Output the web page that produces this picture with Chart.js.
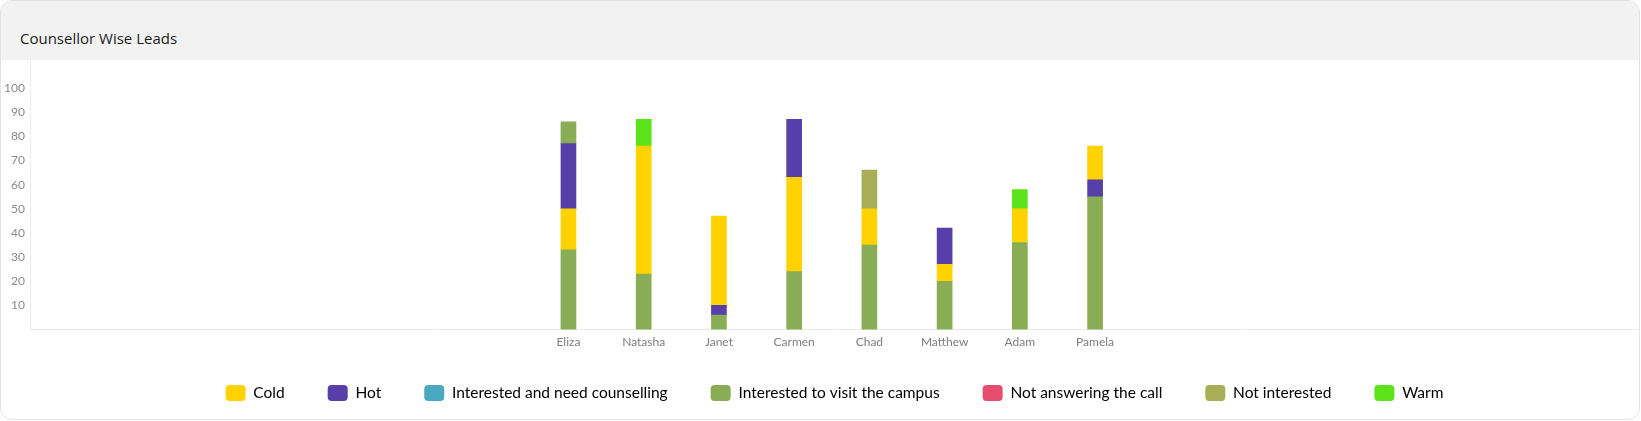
<!DOCTYPE html>
<html>
<head>
<meta charset="utf-8">
<title>Counsellor Wise Leads</title>
<script src="https://cdn.jsdelivr.net/npm/chart.js@4.4.1/dist/chart.umd.min.js"></script>
<style>
  html, body { margin: 0; padding: 0; background: #fff; }
  .card {
    position: relative;
    width: 1640px;
    height: 420px;
    box-sizing: border-box;
    border: 1px solid #e3e3e3;
    border-radius: 12px;
    overflow: hidden;
    background: #fff;
  }
  .card-header {
    height: 59px;
    background: #f2f2f2;
    box-sizing: border-box;
    padding: 27px 0 0 19px;
    font-family: "Open Sans", sans-serif;
    font-weight: 500;
    font-size: 15px;
    line-height: 20px;
    color: #1c1c1c;
  }
  /* o canvas sobe 12px para compensar o padding do eixo y */
  .chart-box {
    position: absolute;
    left: 0;
    top: 47px;
    width: 1643px;
    height: 375px;
  }
</style>
</head>
<body>
<div class="card">
  <div class="card-header">Counsellor Wise Leads</div>
  <div class="chart-box"><canvas id="leadsChart"></canvas></div>
</div>
<script>
// categorias e status
const counsellors = ['Eliza', 'Natasha', 'Janet', 'Carmen', 'Chad', 'Matthew', 'Adam', 'Pamela'];
const statuses = ['Cold', 'Hot', 'Interested and need counselling', 'Interested to visit the campus',
                  'Not answering the call', 'Not interested', 'Warm'];
const statusColors = ['#ffd200', '#573ea9', '#4aa9c1', '#88ad55', '#e74d6d', '#a7ae55', '#5ce31a'];

// segmentos empilhados, de baixo para cima
const visitCampusLower = [33, 23, 6, 24, 35, 20, 36, 55];
const hotLower         = [null, null, 4, null, null, null, null, 7];
const cold             = [17, 53, 37, 39, 15, 7, 14, 14];
const hotUpper         = [27, null, null, 24, null, 15, null, null];
const visitCampusUpper = [9, null, null, null, null, null, null, null];
const warm             = [null, 11, null, null, null, null, 8, null];
const notInterested    = [null, null, null, null, 16, null, null, null];

const yTicks = [10, 20, 30, 40, 50, 60, 70, 80, 90, 100];

const layers = [
  ['Interested to visit the campus', visitCampusLower],
  ['Hot', hotLower],
  ['Cold', cold],
  ['Hot', hotUpper],
  ['Interested to visit the campus', visitCampusUpper],
  ['Warm', warm],
  ['Not interested', notInterested]
];

function colorOf(status) {
  return statusColors[statuses.indexOf(status)];
}

const datasets = layers.map(([status, values]) => ({
  label: status,
  data: values.map((v, i) => ({ x: i, y: v })),
  backgroundColor: colorOf(status),
  borderWidth: 0,
  barThickness: 15
}));

// ajusta a legenda: mais perto do eixo x e centrada na área do gráfico
const legendShift = {
  id: 'legendShift',
  afterLayout(chart) {
    const legend = chart.legend;
    if (!legend) return;
    legend.top -= 12;
    legend.bottom -= 12;
    legend.left += 12;
    legend.right += 12;
  }
};

const ctx = document.getElementById('leadsChart').getContext('2d');
Chart.defaults.font.family = 'Lato';

new Chart(ctx, {
  type: 'bar',
  data: { datasets: datasets },
  plugins: [legendShift],
  options: {
    responsive: true,
    maintainAspectRatio: false,
    animation: false,
    layout: { padding: 0 },
    scales: {
      x: {
        type: 'linear',
        stacked: true,
        offset: false,
        min: -7.157,
        max: 14.296,
        grid: { display: false, drawTicks: false },
        border: { display: true, color: '#ebebeb' },
        ticks: {
          stepSize: 1,
          autoSkip: false,
          maxRotation: 0,
          padding: 5,
          color: '#7d7d7d',
          font: { size: 12 },
          callback: (value) => Number.isInteger(value) && counsellors[value] ? counsellors[value] : null
        }
      },
      y: {
        stacked: true,
        min: 0,
        max: 111.5,
        grid: { display: false, drawTicks: false },
        border: { display: true, color: '#ebebeb' },
        afterFit: (scale) => { scale.width = 29; },
        ticks: {
          stepSize: 10,
          padding: 5,
          color: '#8a8a8a',
          font: { size: 12 },
          callback: (value) => yTicks.includes(value) ? value : null
        }
      }
    },
    plugins: {
      tooltip: { enabled: false },
      legend: {
        position: 'bottom',
        onClick: null,
        labels: {
          boxWidth: 20,
          boxHeight: 16,
          padding: 43,
          color: '#333',
          useBorderRadius: true,
          borderRadius: 4,
          font: { size: 15.5 },
          generateLabels: () => statuses.map((s, i) => ({
            text: s,
            fillStyle: statusColors[i],
            strokeStyle: statusColors[i],
            lineWidth: 0,
            borderRadius: 4,
            hidden: false,
            datasetIndex: i
          }))
        }
      }
    }
  }
});
</script>
</body>
</html>
